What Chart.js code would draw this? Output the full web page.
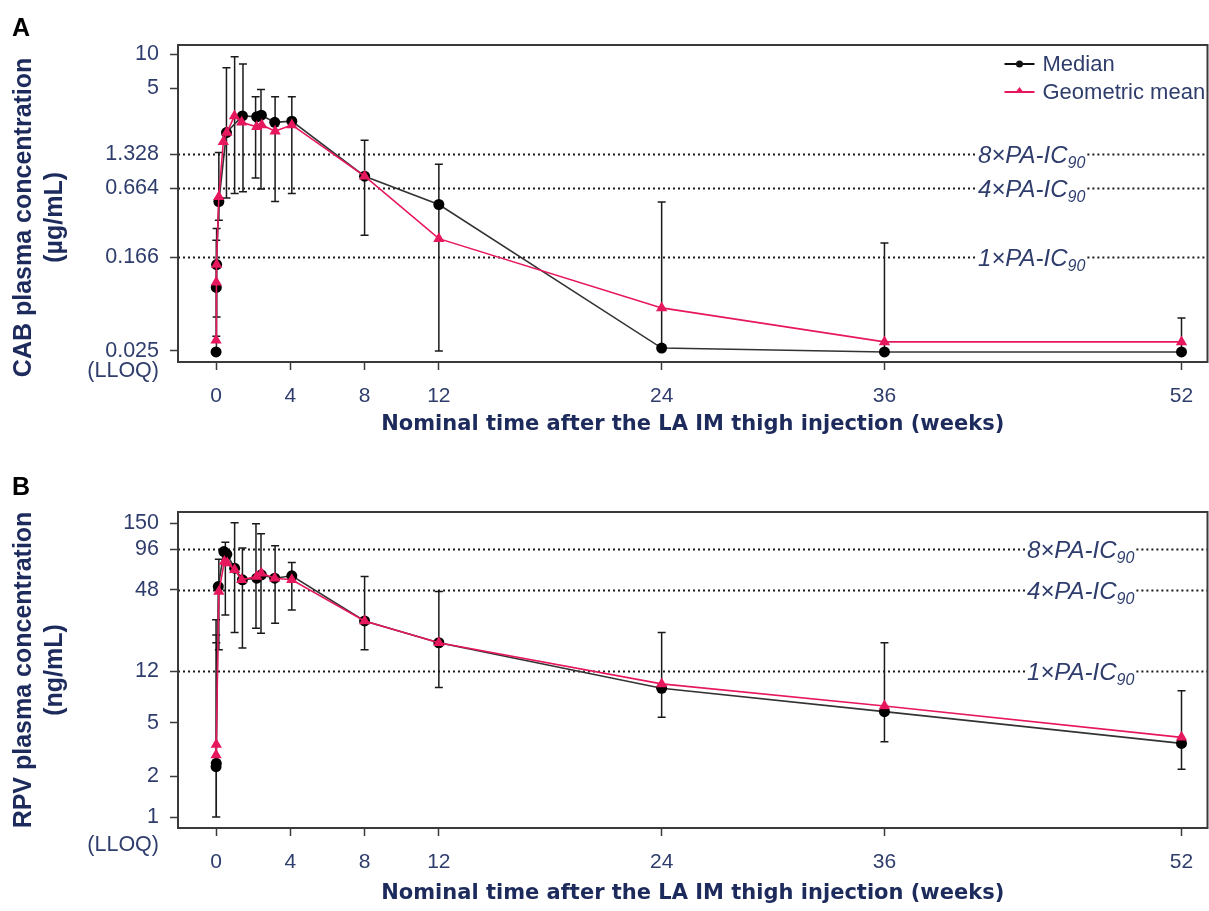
<!DOCTYPE html>
<html>
<head>
<meta charset="utf-8">
<script src="https://cdn.jsdelivr.net/npm/chart.js@4.4.0/dist/chart.umd.min.js"></script>
<style>
  html, body { margin: 0; padding: 0; background: #fff; }
  body { width: 1209px; height: 911px; position: relative; overflow: hidden; }
  .panel-label { position: absolute; left: 12px; font: bold 25px "Liberation Sans", Arial, sans-serif; line-height: 25px; color: #000; z-index: 2; }
  .wrap { position: absolute; left: 0; width: 1214px; }
  canvas { display: block; }
</style>
</head>
<body>
<div class="panel-label" style="top:15px">A</div>
<div class="wrap" style="top:0;height:450px"><canvas id="chartA" width="1214" height="450"></canvas></div>
<div class="panel-label" style="top:474px">B</div>
<div class="wrap" style="top:460px;height:451px"><canvas id="chartB" width="1214" height="451"></canvas></div>

<script>
// ---- dados ----
const weekTicks = [0, 4, 8, 12, 24, 36, 52];
const xTitle = 'Nominal time after the LA IM thigh injection (weeks)';

// painel A - CAB
const cabTicks = [0.025, 0.166, 0.664, 1.328, 5, 10];
const cabTickLabels = [['', '0.025', '(LLOQ)'], '0.166', '0.664', '1.328', '5', '10'];
const cabRefValues = [1.328, 0.664, 0.166];
const cabRefLabels = ['8×PA-IC', '4×PA-IC', '1×PA-IC'];

const cabMedianWeeks = [0, 0.012, 0.03, 0.15, 0.56, 1.42, 2.19, 2.44, 3.16, 4.08, 8, 12, 24, 36, 52];
const cabMedian = [0.0245, 0.090, 0.143, 0.51, 2.05, 2.87, 2.82, 2.91, 2.52, 2.58, 0.85, 0.48, 0.0265, 0.0245, 0.0245];
const cabGeoWeeks = [0, 0.012, 0.03, 0.15, 0.39, 0.58, 0.99, 1.38, 2.19, 2.46, 3.18, 4.08, 8, 12, 24, 36, 52];
const cabGeoMean = [0.031, 0.100, 0.143, 0.56, 1.70, 2.05, 2.86, 2.52, 2.30, 2.39, 2.11, 2.39, 0.85, 0.241, 0.0596, 0.030, 0.030];
const cabErrWeeks = [0.012, 0.03, 0.15, 0.56, 1.0, 1.45, 2.13, 2.42, 3.18, 4.08, 8, 12, 24, 36, 52];
const cabErrLow = [0.0336, 0.0497, 0.35, 0.548, 0.60, 0.62, 0.82, 0.655, 0.51, 0.60, 0.258, 0.025, 0.0265, 0.0245, 0.0245];
const cabErrHigh = [0.233, 0.296, 1.37, 7.59, 9.47, 8.17, 4.22, 4.90, 4.22, 4.22, 1.76, 1.08, 0.506, 0.221, 0.0486];

// painel B - RPV
const rpvTicks = [1, 2, 5, 12, 48, 96, 150];
const rpvTickLabels = [['', '1', '(LLOQ)'], '2', '5', '12', '48', '96', '150'];
const rpvRefValues = [96, 48, 12];
const rpvRefLabels = ['8×PA-IC', '4×PA-IC', '1×PA-IC'];

const rpvMedianWeeks = [0, 0.012, 0.12, 0.42, 0.58, 1.0, 1.42, 2.19, 2.44, 3.16, 4.08, 8, 12, 24, 36, 52];
const rpvMedian = [2.36, 2.5, 50.8, 92.3, 88, 69.5, 57, 58.6, 62, 58.6, 61, 28.3, 19.5, 8.98, 6.03, 3.51];
const rpvGeoWeeks = [0, 0.012, 0.15, 0.45, 0.6, 1.0, 1.38, 2.19, 2.44, 3.16, 4.08, 8, 12, 24, 36, 52];
const rpvGeoMean = [2.88, 3.45, 46.7, 77.8, 76, 67.6, 57, 60.3, 63.8, 58.6, 57, 28.3, 19.5, 9.67, 6.64, 3.89];
const rpvErrWeeks = [0, 0.006, 0.012, 0.15, 0.5, 1.0, 1.42, 2.15, 2.42, 3.18, 4.08, 8, 12, 24, 36, 52];
const rpvErrLow = [1.0, 1.0, 1.0, 17.3, 31.3, 23.2, 17.8, 25, 22.9, 27.2, 34.1, 17.3, 9.1, 5.48, 3.61, 2.26];
const rpvErrHigh = [28.8, 22.3, 19.5, 81, 108, 151, 97.8, 148, 125, 102, 76.5, 60.3, 46.7, 23.2, 19.5, 8.62];

// ---- estilos ----
const FONT = '"Liberation Sans", Arial, sans-serif';
const WIDE_FONT = '"DejaVu Sans", "Liberation Sans", sans-serif';
const TICK_COLOR = '#2f3d6c';
const TITLE_COLOR = '#1d2a5c';
const AXIS_COLOR = '#3a3a3a';
const PINK = '#e6175c';

const toPoints = (xs, ys) => xs.map((x, i) => ({ x: x, y: ys[i] }));

// moldura completa em volta da área do gráfico
const framePlugin = {
    id: 'frame',
    afterDatasetsDraw(chart) {
        const { ctx, chartArea: a } = chart;
        ctx.save();
        ctx.strokeStyle = AXIS_COLOR;
        ctx.lineWidth = 2;
        ctx.strokeRect(a.left, a.top, a.right - a.left, a.bottom - a.top);
        ctx.restore();
    }
};

// linhas pontilhadas dos limiares PA-IC90
const makeRefLines = (values, labels, labelX) => ({
    id: 'refLines',
    beforeDatasetsDraw(chart) {
        const { ctx, chartArea: a, scales: { y } } = chart;
        ctx.save();
        values.forEach((v, i) => {
            const py = Math.round(y.getPixelForValue(v)) + 0.5;
            ctx.font = 'italic 24px ' + FONT;
            const w1 = ctx.measureText(labels[i]).width;
            ctx.font = 'italic 16px ' + FONT;
            const w2 = ctx.measureText('90').width;

            ctx.strokeStyle = '#1a1a1a';
            ctx.lineWidth = 2;
            ctx.setLineDash([2, 3]);
            ctx.beginPath();
            ctx.moveTo(a.left, py);
            ctx.lineTo(labelX - 2, py);
            ctx.moveTo(labelX + w1 + w2 + 2, py);
            ctx.lineTo(a.right, py);
            ctx.stroke();
            ctx.setLineDash([]);

            ctx.fillStyle = TICK_COLOR;
            ctx.textAlign = 'left';
            ctx.textBaseline = 'alphabetic';
            ctx.font = 'italic 24px ' + FONT;
            ctx.fillText(labels[i], labelX, py + 8);
            ctx.font = 'italic 16px ' + FONT;
            ctx.fillText('90', labelX + w1, py + 13);
        });
        ctx.restore();
    }
});

// barras de erro verticais com traço nas pontas
const makeErrorBars = (weeks, lows, highs) => ({
    id: 'errorBars',
    beforeDatasetsDraw(chart) {
        const { ctx, scales: { x, y } } = chart;
        ctx.save();
        ctx.strokeStyle = '#1a1a1a';
        ctx.lineWidth = 1.5;
        ctx.beginPath();
        weeks.forEach((w, i) => {
            const px = x.getPixelForValue(w);
            const yl = y.getPixelForValue(lows[i]);
            const yh = y.getPixelForValue(highs[i]);
            ctx.moveTo(px, yl); ctx.lineTo(px, yh);
            ctx.moveTo(px - 4, yl); ctx.lineTo(px + 4, yl);
            ctx.moveTo(px - 4, yh); ctx.lineTo(px + 4, yh);
        });
        ctx.stroke();
        ctx.restore();
    }
});

// legenda dentro da área (só painel A)
const keyPlugin = {
    id: 'key',
    afterDatasetsDraw(chart) {
        const { ctx, chartArea: a } = chart;
        const x0 = a.right - 203, x1 = a.right - 173, tx = a.right - 165;
        const rows = [
            { y: a.top + 19, color: '#111', text: 'Median', marker: 'dot' },
            { y: a.top + 47, color: PINK, text: 'Geometric mean', marker: 'tri' }
        ];
        ctx.save();
        rows.forEach(r => {
            ctx.strokeStyle = r.color;
            ctx.fillStyle = r.color;
            ctx.lineWidth = 2;
            ctx.beginPath();
            ctx.moveTo(x0, r.y); ctx.lineTo(x1, r.y);
            ctx.stroke();
            const cx = (x0 + x1) / 2;
            ctx.beginPath();
            if (r.marker === 'dot') {
                ctx.arc(cx, r.y, 3.5, 0, Math.PI * 2);
            } else {
                ctx.moveTo(cx, r.y - 5); ctx.lineTo(cx + 4.5, r.y + 1); ctx.lineTo(cx - 4.5, r.y + 1);
                ctx.closePath();
            }
            ctx.fill();
            ctx.fillStyle = TICK_COLOR;
            ctx.font = '22px ' + FONT;
            ctx.textAlign = 'left';
            ctx.textBaseline = 'middle';
            ctx.fillText(r.text, tx, r.y + 1);
        });
        ctx.restore();
    }
};

const gridOpts = {
    drawOnChartArea: false,
    drawTicks: true,
    tickLength: 8,
    tickWidth: 1.5,
    tickColor: AXIS_COLOR
};

const buildChart = (canvasId, cfg) => {
    const canvas = document.getElementById(canvasId);
    const datasets = [
        {
            label: 'Geometric mean',
            data: toPoints(cfg.geoWeeks, cfg.geo),
            borderColor: PINK,
            backgroundColor: PINK,
            borderWidth: 1.6,
            pointStyle: 'triangle',
            pointRadius: 6.5,
            pointBorderWidth: 0,
            tension: 0,
            order: 0
        },
        {
            label: 'Median',
            data: toPoints(cfg.medWeeks, cfg.med),
            borderColor: '#333',
            backgroundColor: '#000',
            borderWidth: 1.6,
            pointStyle: 'circle',
            pointRadius: 5.5,
            pointBorderWidth: 0,
            tension: 0,
            order: 1
        }
    ];

    const plugins = [framePlugin, makeRefLines(cfg.refValues, cfg.refLabels, cfg.refLabelX),
        makeErrorBars(cfg.errWeeks, cfg.errLow, cfg.errHigh)];
    if (cfg.showKey) plugins.push(keyPlugin);

    return new Chart(canvas.getContext('2d'), {
        type: 'line',
        data: { datasets },
        options: {
            responsive: false,
            animation: false,
            layout: { padding: { top: cfg.padTop, right: 2, left: 0, bottom: 0 } },
            plugins: {
                legend: { display: false },
                tooltip: { enabled: false }
            },
            scales: {
                x: {
                    type: 'linear',
                    min: -2.05,
                    max: 53.4,
                    afterBuildTicks: s => { s.ticks = weekTicks.map(v => ({ value: v })); },
                    afterFit: s => { s.height = cfg.xAxisHeight; },
                    ticks: {
                        autoSkip: false,
                        maxRotation: 0,
                        padding: 14,
                        color: TICK_COLOR,
                        font: { family: FONT, size: 21 },
                        callback: v => String(v)
                    },
                    grid: gridOpts,
                    border: { display: false },
                    title: {
                        display: true,
                        text: xTitle,
                        color: TITLE_COLOR,
                        font: { family: WIDE_FONT, size: 21, weight: 'bold', lineHeight: 1.2 },
                        padding: { top: 0, bottom: cfg.xTitlePad }
                    }
                },
                y: {
                    type: 'logarithmic',
                    min: cfg.yMin,
                    max: cfg.yMax,
                    afterBuildTicks: s => { s.ticks = cfg.yTicks.map(v => ({ value: v })); },
                    afterFit: s => { s.width = 178; },
                    ticks: {
                        autoSkip: false,
                        padding: 11,
                        color: TICK_COLOR,
                        font: { family: FONT, size: 21.5, lineHeight: cfg.tickLineHeight },
                        callback: (v, i) => cfg.yTickLabels[i]
                    },
                    grid: gridOpts,
                    border: { display: false },
                    title: {
                        display: true,
                        text: cfg.yTitle,
                        color: TITLE_COLOR,
                        font: { family: FONT, size: 25, weight: 'bold', lineHeight: 1.25 },
                        padding: { top: 8, bottom: 0 }
                    }
                }
            }
        },
        plugins
    });
};

document.addEventListener('DOMContentLoaded', () => {
    buildChart('chartA', {
        medWeeks: cabMedianWeeks, med: cabMedian,
        geoWeeks: cabGeoWeeks, geo: cabGeoMean,
        errWeeks: cabErrWeeks, errLow: cabErrLow, errHigh: cabErrHigh,
        refValues: cabRefValues, refLabels: cabRefLabels, refLabelX: 978,
        yTicks: cabTicks, yTickLabels: cabTickLabels,
        yMin: 0.02, yMax: 12,
        // espaços finais empurram o título um pouco para baixo, como no original
        yTitle: ['CAB plasma concentration    ', '(µg/mL)    '],
        padTop: 45, xAxisHeight: 88, xTitlePad: 13, tickLineHeight: 0.95,
        showKey: true
    });

    buildChart('chartB', {
        medWeeks: rpvMedianWeeks, med: rpvMedian,
        geoWeeks: rpvGeoWeeks, geo: rpvGeoMean,
        errWeeks: rpvErrWeeks, errLow: rpvErrLow, errHigh: rpvErrHigh,
        refValues: rpvRefValues, refLabels: rpvRefLabels, refLabelX: 1027,
        yTicks: rpvTicks, yTickLabels: rpvTickLabels,
        yMin: 0.83, yMax: 181,
        yTitle: ['RPV plasma concentration', '(ng/mL)'],
        padTop: 52, xAxisHeight: 83, xTitlePad: 5, tickLineHeight: 1.3,
        showKey: false
    });
});
</script>
</body>
</html>
